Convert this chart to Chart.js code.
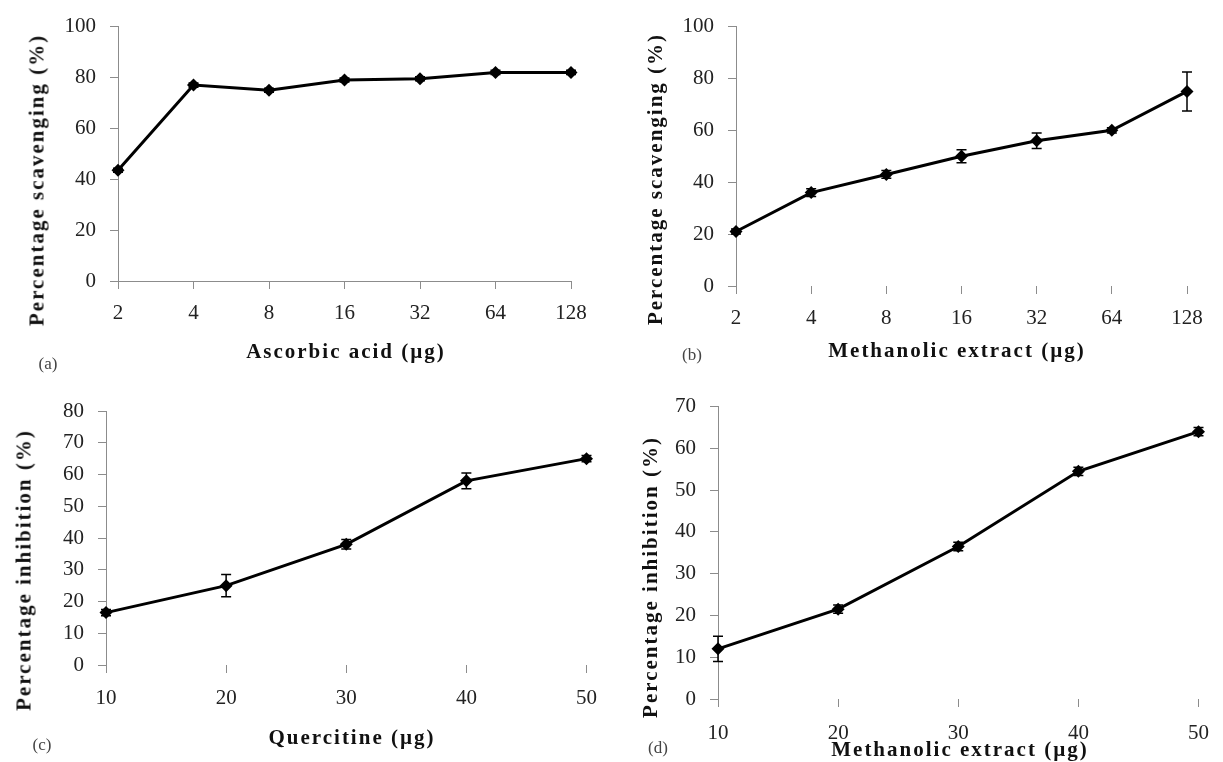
<!DOCTYPE html>
<html>
<head>
<meta charset="utf-8">
<script src="https://cdn.jsdelivr.net/npm/chart.js@4.4.1/dist/chart.umd.min.js"></script>
<style>
body { margin: 0; background: #fff; }
#wrap { position: relative; width: 1223px; height: 762px; overflow: hidden; font-family: 'Liberation Serif', 'Times New Roman', serif; }
.panel { position: absolute; }
.ytitle, .xtitle, .tag { position: absolute; white-space: nowrap; color: #111; transform: translate(-50%, -50%); }
.ytitle { font-weight: bold; font-size: 21px; letter-spacing: 2px; transform: translate(-50%, -50%) rotate(-90deg); }
.xtitle { font-weight: bold; font-size: 21px; letter-spacing: 2px; }
.tag { font-size: 17px; color: #444; }
</style>
</head>
<body>
<div id="wrap">
  <div class="panel" style="left:0;top:0"><canvas id="chartA" width="610" height="380"></canvas></div>
  <div class="panel" style="left:610px;top:0"><canvas id="chartB" width="613" height="380"></canvas></div>
  <div class="panel" style="left:0;top:380px"><canvas id="chartC" width="610" height="382"></canvas></div>
  <div class="panel" style="left:610px;top:380px"><canvas id="chartD" width="613" height="382"></canvas></div>

  <div class="ytitle" style="left:37px;top:180px">Percentage scavenging (%)</div>
  <div class="ytitle" style="left:655px;top:179px">Percentage scavenging (%)</div>
  <div class="ytitle" style="left:24px;top:570px">Percentage inhibition (%)</div>
  <div class="ytitle" style="left:650px;top:577px">Percentage inhibition (%)</div>

  <div class="xtitle" style="left:346px;top:351px">Ascorbic acid (µg)</div>
  <div class="xtitle" style="left:957px;top:350px">Methanolic extract (µg)</div>
  <div class="xtitle" style="left:352px;top:737px">Quercitine (µg)</div>
  <div class="xtitle" style="left:960px;top:749px">Methanolic extract (µg)</div>

  <div class="tag" style="left:48px;top:364px">(a)</div>
  <div class="tag" style="left:692px;top:355px">(b)</div>
  <div class="tag" style="left:42px;top:745px">(c)</div>
  <div class="tag" style="left:658px;top:748px">(d)</div>
</div>
<script>
// doses (x categories)
const doseAB = ['2', '4', '8', '16', '32', '64', '128'];
const doseCD = ['10', '20', '30', '40', '50'];

// (a) ascorbic acid, scavenging %
const ascorbicScav = [43.5, 77, 75, 79, 79.5, 82, 82];
const ascorbicErr = [0.8, 0.8, 0.8, 0.8, 0.8, 0.8, 0.8];
// (b) methanolic extract, scavenging %
const extractScav = [21, 36, 43, 50, 56, 60, 75];
const extractScavErr = [1, 1.5, 1.5, 2.5, 3, 1, 7.5];
// (c) quercitine, inhibition %
const quercitineInhib = [16.5, 25, 38, 58, 65];
const quercitineErr = [1, 3.5, 1.5, 2.5, 1];
// (d) methanolic extract, inhibition %
const extractInhib = [12, 21.5, 36.5, 54.5, 64];
const extractInhibErr = [3, 1, 1, 1, 1];

// y axis ranges
const yRangeA = { max: 100, step: 20 };
const yRangeB = { max: 100, step: 20 };
const yRangeC = { max: 80, step: 10 };
const yRangeD = { max: 70, step: 10 };

const axisGrey = '#8c8c8c';
const tickFont = { family: "'Liberation Serif', 'Times New Roman', serif", size: 21 };

// draws the vertical error bars with caps
const errorBarPlugin = {
    id: 'errorBars',
    afterDatasetsDraw(chart, args, opts) {
        const errs = opts.errors;
        if (!errs) return;
        const meta = chart.getDatasetMeta(0);
        const vals = chart.data.datasets[0].data;
        const ys = chart.scales.y;
        const ctx = chart.ctx;
        ctx.save();
        ctx.strokeStyle = '#000';
        ctx.lineWidth = 1.5;
        meta.data.forEach((pt, i) => {
            const e = errs[i];
            if (!e) return;
            const yTop = ys.getPixelForValue(vals[i] + e);
            const yBot = ys.getPixelForValue(vals[i] - e);
            ctx.beginPath();
            ctx.moveTo(pt.x, yTop); ctx.lineTo(pt.x, yBot);
            ctx.moveTo(pt.x - 5, yTop); ctx.lineTo(pt.x + 5, yTop);
            ctx.moveTo(pt.x - 5, yBot); ctx.lineTo(pt.x + 5, yBot);
            ctx.stroke();
        });
        ctx.restore();
    }
};

function makeChart(id, labels, values, errors, yRange, box) {
    const canvas = document.getElementById(id);
    return new Chart(canvas, {
        type: 'line',
        data: {
            labels: labels,
            datasets: [{
                data: values,
                borderColor: '#000',
                borderWidth: 3,
                tension: 0,
                pointStyle: 'rectRot',
                pointRadius: 6.5,
                pointBackgroundColor: '#000',
                pointBorderColor: '#000',
                pointBorderWidth: 0,
                clip: false
            }]
        },
        options: {
            responsive: false,
            animation: false,
            layout: { padding: { left: 0, top: box.top, right: canvas.width - box.right, bottom: 0 } },
            plugins: {
                legend: { display: false },
                tooltip: { enabled: false },
                errorBars: { errors: errors }
            },
            scales: {
                x: {
                    offset: false,
                    afterFit: s => { s.height = canvas.height - box.bottom; },
                    border: { display: box.xLine, color: axisGrey, width: 1 },
                    grid: { drawOnChartArea: false, drawTicks: true, tickLength: 8, color: axisGrey },
                    ticks: { color: '#222', font: tickFont, padding: box.xPad, maxRotation: 0, autoSkip: false }
                },
                y: {
                    min: 0,
                    max: yRange.max,
                    afterFit: s => { s.width = box.left; },
                    border: { display: true, color: axisGrey, width: 1 },
                    grid: { drawOnChartArea: false, drawTicks: true, tickLength: 8, color: axisGrey },
                    ticks: { stepSize: yRange.step, color: '#222', font: tickFont, padding: 14 }
                }
            }
        },
        plugins: [errorBarPlugin]
    });
}

makeChart('chartA', doseAB, ascorbicScav, ascorbicErr, yRangeA,
    { left: 118, right: 571, top: 23, bottom: 281, xLine: true, xPad: 12 });
makeChart('chartB', doseAB, extractScav, extractScavErr, yRangeB,
    { left: 126, right: 577, top: 22, bottom: 286, xLine: false, xPad: 12 });
makeChart('chartC', doseCD, quercitineInhib, quercitineErr, yRangeC,
    { left: 106, right: 600, top: 31, bottom: 285, xLine: false, xPad: 13 });
makeChart('chartD', doseCD, extractInhib, extractInhibErr, yRangeD,
    { left: 108, right: 600, top: 21, bottom: 319, xLine: false, xPad: 14 });
</script>
</body>
</html>
